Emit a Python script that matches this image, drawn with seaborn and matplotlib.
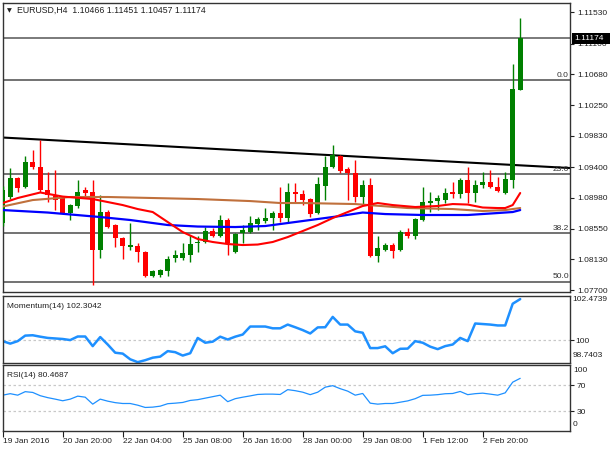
import matplotlib
matplotlib.use("Agg")
import matplotlib.pyplot as plt
import matplotlib.transforms as mtrans
from matplotlib.patches import Rectangle
import seaborn as sns
import numpy as np

sns.set_theme(style="white")
plt.rcParams['font.family'] = ['Liberation Sans', 'DejaVu Sans']
plt.rcParams['font.size'] = 6

# EURUSD H4 candles
opens = [1.08629, 1.08986, 1.09248, 1.09124, 1.09469, 1.09400, 1.09083, 1.09000, 1.08973, 1.08766,
         1.08863, 1.09083, 1.09055, 1.08256, 1.08780, 1.08601, 1.08422, 1.08298, 1.08312, 1.08229,
         1.07898, 1.07912, 1.07967, 1.08146, 1.08146, 1.08187, 1.08353, 1.08367, 1.08518, 1.08449,
         1.08670, 1.08229, 1.08490, 1.08504, 1.08615, 1.08656, 1.08697, 1.08766, 1.08697, 1.09055,
         1.09028, 1.08959, 1.08766, 1.09138, 1.09400, 1.09552, 1.09372, 1.09317, 1.08986, 1.09152,
         1.08173, 1.08256, 1.08325, 1.08256, 1.08504, 1.08449, 1.08670, 1.08904, 1.08932, 1.08945,
         1.09055, 1.09028, 1.09221, 1.09042, 1.09152, 1.09193, 1.09124, 1.09042, 1.09221, 1.10466]
highs = [1.09138, 1.09386, 1.09262, 1.09552, 1.09634, 1.09772, 1.09331, 1.09359, 1.08986, 1.08890,
         1.09221, 1.09124, 1.09221, 1.09014, 1.08807, 1.08615, 1.08435, 1.08628, 1.08353, 1.08242,
         1.07981, 1.07994, 1.08173, 1.08256, 1.08353, 1.08463, 1.08449, 1.08573, 1.08559, 1.08739,
         1.08697, 1.08490, 1.08601, 1.08725, 1.08711, 1.08835, 1.08794, 1.09124, 1.09180, 1.09180,
         1.09083, 1.08973, 1.09262, 1.09552, 1.09703, 1.09565, 1.09400, 1.09497, 1.09221, 1.09248,
         1.08449, 1.08353, 1.08353, 1.08532, 1.08559, 1.08697, 1.09124, 1.09055, 1.09014, 1.09111,
         1.09193, 1.09248, 1.09400, 1.09221, 1.09331, 1.09359, 1.09262, 1.09331, 1.10819, 1.11451]
lows = [1.08587, 1.08959, 1.09055, 1.09111, 1.09372, 1.09055, 1.08918, 1.08807, 1.08752, 1.08670,
        1.08835, 1.08986, 1.07774, 1.08146, 1.08559, 1.08298, 1.08132, 1.08256, 1.08091, 1.07884,
        1.07884, 1.07884, 1.07898, 1.08091, 1.08118, 1.08091, 1.08229, 1.08353, 1.08435, 1.08435,
        1.08187, 1.08215, 1.08353, 1.08490, 1.08532, 1.08628, 1.08532, 1.08642, 1.08628, 1.08918,
        1.08876, 1.08711, 1.08752, 1.08945, 1.09386, 1.09317, 1.08945, 1.08918, 1.08876, 1.08160,
        1.08091, 1.08242, 1.08146, 1.08242, 1.08422, 1.08408, 1.08656, 1.08780, 1.08807, 1.08904,
        1.08973, 1.08973, 1.08904, 1.08918, 1.09111, 1.09111, 1.09055, 1.09028, 1.09111, 1.10457]
closes = [1.09083, 1.09248, 1.09111, 1.09469, 1.09400, 1.09083, 1.09014, 1.08945, 1.08766, 1.08876,
          1.09055, 1.09042, 1.08256, 1.08780, 1.08573, 1.08422, 1.08312, 1.08325, 1.08229, 1.07898,
          1.07967, 1.07981, 1.08132, 1.08187, 1.08215, 1.08339, 1.08367, 1.08518, 1.08449, 1.08670,
          1.08353, 1.08477, 1.08532, 1.08628, 1.08684, 1.08697, 1.08766, 1.08697, 1.09055, 1.09028,
          1.08945, 1.08752, 1.09166, 1.09400, 1.09565, 1.09345, 1.09317, 1.08986, 1.09152, 1.08173,
          1.08284, 1.08325, 1.08242, 1.08504, 1.08449, 1.08684, 1.08918, 1.08932, 1.08973, 1.09042,
          1.09028, 1.09221, 1.09042, 1.09152, 1.09193, 1.09124, 1.09069, 1.09235, 1.10475, 1.11174]

# moving averages (bar index, price)
red_ma_idx = [0, 2, 5, 8, 12, 16, 18, 20, 22, 24, 26, 28, 30, 32, 34, 36, 38, 40, 42, 44,
              46, 48, 50, 52, 55, 58, 60, 62, 64, 66, 67, 68, 69]
red_ma_val = [1.08904, 1.08973, 1.09049, 1.08993, 1.08959, 1.08876, 1.08821, 1.08780, 1.08642, 1.08504,
              1.08408, 1.08367, 1.08339, 1.08325, 1.08332, 1.08367, 1.08435, 1.08518, 1.08601, 1.08697,
              1.08780, 1.08863, 1.08904, 1.08876, 1.08849, 1.08863, 1.08890, 1.08883, 1.08842, 1.08835,
              1.08835, 1.08876, 1.09042]
brown_ma_idx = [0, 4, 9, 14, 20, 26, 33, 37, 40, 47, 54, 60, 64, 67, 69]
brown_ma_val = [1.08856, 1.08945, 1.08987, 1.08987, 1.08973, 1.08959, 1.08931, 1.08904, 1.08904, 1.08890,
                1.08835, 1.08821, 1.08794, 1.08807, 1.08835]
blue_ma_idx = [0, 6, 13, 17, 22, 26, 31, 35, 40, 45, 48, 51, 56, 62, 66, 68, 69]
blue_ma_val = [1.08807, 1.08773, 1.08711, 1.08670, 1.08601, 1.08580, 1.08573, 1.08587, 1.08656, 1.08725,
               1.08773, 1.08752, 1.08739, 1.08739, 1.08766, 1.08780, 1.08807]

trend_idx = [-0.1, 75.7]
trend_val = [1.09807, 1.09386]

fib_levels = [1.10599, 1.09299, 1.08491, 1.07819]
fib_labels = ["0.0", "23.6", "38.2", "50.0"]
last_price = 1.11174

price_ticks = [1.11530, 1.11100, 1.10680, 1.10250, 1.09830, 1.09400, 1.08980, 1.08550, 1.08130, 1.07700]

momentum = [99.94, 99.80, 99.94, 100.25, 100.27, 100.19, 100.12, 100.09, 100.06, 100.00,
            100.20, 100.20, 99.66, 100.17, 99.75, 99.29, 99.24, 98.92, 98.76, 98.87,
            99.01, 99.07, 99.38, 99.32, 99.13, 99.26, 100.12, 99.85, 99.91, 100.19,
            100.03, 100.19, 100.31, 100.76, 100.76, 100.76, 100.66, 100.66, 100.87, 100.72,
            100.56, 100.37, 100.71, 100.72, 101.30, 100.87, 100.87, 100.49, 100.41, 99.55,
            99.55, 99.65, 99.26, 99.51, 99.52, 99.94, 99.85, 99.63, 99.49, 99.66,
            99.75, 100.12, 99.94, 100.93, 100.90, 100.87, 100.82, 100.82, 102.04, 102.30]
rsi = [54.6, 56.9, 54.6, 60.0, 58.8, 53.8, 50.8, 48.5, 46.0, 48.5,
       53.1, 51.5, 40.8, 48.5, 45.4, 43.1, 41.8, 41.8, 39.2, 35.7,
       36.2, 37.7, 41.5, 42.3, 43.4, 46.5, 47.7, 50.0, 52.3, 54.6,
       44.6, 49.2, 51.5, 53.5, 55.7, 56.2, 56.2, 55.7, 63.1, 61.5,
       59.2, 55.4, 59.2, 66.9, 69.2, 64.6, 60.8, 54.6, 57.2, 42.3,
       40.8, 41.8, 41.8, 43.8, 45.8, 49.2, 54.3, 54.6, 55.4, 56.8,
       57.2, 60.3, 55.4, 56.9, 57.7, 56.2, 54.6, 58.2, 74.6, 80.5]

date_ticks = [0, 8, 16, 24, 32, 40, 48, 56, 64]
date_labels = ["19 Jan 2016", "20 Jan 20:00", "22 Jan 04:00", "25 Jan 08:00", "26 Jan 16:00",
               "28 Jan 00:00", "29 Jan 08:00", "1 Feb 12:00", "2 Feb 20:00"]

W, H = 610, 450
fig = plt.figure(figsize=(W / 100, H / 100), dpi=100)
fig.patch.set_facecolor('white')

def box(l, t, r, b):
    return [l / W, 1 - b / H, (r - l) / W, (b - t) / H]

ax1 = fig.add_axes(box(2.5, 2.5, 570, 292))
ax2 = fig.add_axes(box(2.5, 296, 570, 362.5))
ax3 = fig.add_axes(box(2.5, 365, 570, 431))
xlim = (-0.03, 75.64)

# --- price panel
o, h, l, c = map(np.array, (opens, highs, lows, closes))
idx = np.arange(len(o))
cols = np.where(c >= o, '#008000', '#ff0000')
ax1.vlines(idx, l, h, colors=cols, lw=1, zorder=3)
ax1.bar(idx, np.maximum(np.abs(c - o), 0.00004), bottom=np.minimum(o, c), width=0.62,
        color=cols, lw=0, zorder=4)

for lvl in fib_levels:
    ax1.axhline(lvl, color='#5a5a5a', lw=1.2, zorder=1)
ax1.axhline(last_price, color='#7a7a7a', lw=1.4, zorder=1)

sns.lineplot(x=trend_idx, y=trend_val, ax=ax1, color='black', lw=1.5, zorder=2)
sns.lineplot(x=brown_ma_idx, y=brown_ma_val, ax=ax1, color='#c0703c', lw=1.5, zorder=5)
sns.lineplot(x=blue_ma_idx, y=blue_ma_val, ax=ax1, color='#0000ff', lw=1.6, zorder=5)
sns.lineplot(x=red_ma_idx, y=red_ma_val, ax=ax1, color='#ff0000', lw=1.5, zorder=6)

trans1 = mtrans.blended_transform_factory(ax1.transAxes, ax1.transData)
for lvl, lab in zip(fib_levels, fib_labels):
    ax1.annotate(lab, xy=(0.998, lvl), xycoords=trans1, xytext=(0, 1),
                 textcoords='offset points', ha='right', va='bottom', color='#303030', fontsize=6)

ax1.set_ylim(1.07678, 1.11667)
ax1.set_yticks(price_ticks)
ax1.set_yticklabels([f"{t:.5f}" for t in price_ticks])

# --- momentum panel
sns.lineplot(x=idx, y=momentum, ax=ax2, color='#1e90ff', lw=1.8)
ax2.axhline(100, color='#c8c8c8', lw=0.9, ls=(0, (2, 2)), zorder=0)
ax2.set_ylim(98.7403, 102.4739)
ax2.set_yticks([100])
ax2.set_yticklabels(["100"])
for txt, yf in (("102.4739", 0.94), ("98.7403", 0.10)):
    ax2.text(1 + 2.5 / 567.5, yf, txt, transform=ax2.transAxes, ha='left', va='center',
             fontsize=6, color='#202020', clip_on=False)
ax2.text(4.5 / 567.5, 0.9, "Momentum(14) 102.3042", transform=ax2.transAxes,
         ha='left', va='top', fontsize=6, color='#202020')

# --- RSI panel
sns.lineplot(x=idx, y=rsi, ax=ax3, color='#1e90ff', lw=0.9)
for lvl in (70, 30):
    ax3.axhline(lvl, color='#c8c8c8', lw=0.9, ls=(0, (2, 2)), zorder=0)
ax3.set_ylim(-0.5, 101)
ax3.set_yticks([70, 30])
ax3.set_yticklabels(["70", "30"])
for txt, yf in (("100", 0.91), ("0", 0.10)):
    ax3.text(1 + 3 / 567.5, yf, txt, transform=ax3.transAxes, ha='left', va='center',
             fontsize=6, color='#202020', clip_on=False)
ax3.text(4.5 / 567.5, 0.9, "RSI(14) 80.4687", transform=ax3.transAxes,
         ha='left', va='top', fontsize=6, color='#202020')

ax3.set_xticks(date_ticks)
ax3.set_xticklabels(date_labels, ha='left')
ax3.tick_params(axis='x', direction='out', length=4, width=0.8, pad=1, labelsize=6,
                bottom=True, colors='#202020')

for ax in (ax1, ax2, ax3):
    ax.set_xlim(*xlim)
    ax.set_xlabel(''); ax.set_ylabel('')
    ax.yaxis.tick_right()
    ax.tick_params(axis='y', direction='out', length=3, width=0.8, pad=2, labelsize=6,
                   right=True, left=False, colors='#202020')
    for s in ax.spines.values():
        s.set_color('#333333'); s.set_linewidth(1.0)
    ax.set_facecolor('white')
for ax in (ax1, ax2):
    ax.set_xticks([])
ax2.tick_params(axis='y', pad=1)
ax3.tick_params(axis='y', pad=1.5)

# header text and last-price marker
fig.text(7 / W, 1 - 10.5 / H, "\u25bc", fontsize=4.5, ha='left', va='center', color='#202020',
         family=['DejaVu Sans'])
fig.text(17 / W, 1 - 10.5 / H, "EURUSD,H4  1.10466 1.11451 1.10457 1.11174", fontsize=6.3,
         ha='left', va='center', color='#202020')
fig.add_artist(Rectangle((572 / W, 1 - 44 / H), 38 / W, 11 / H, transform=fig.transFigure,
                         fc='black', ec='none', zorder=5))
fig.text(574 / W, 1 - 38.5 / H, "1.11174", fontsize=6, ha='left', va='center', color='white',
         zorder=6)

fig.savefig("out.png", dpi=100, facecolor='white')
